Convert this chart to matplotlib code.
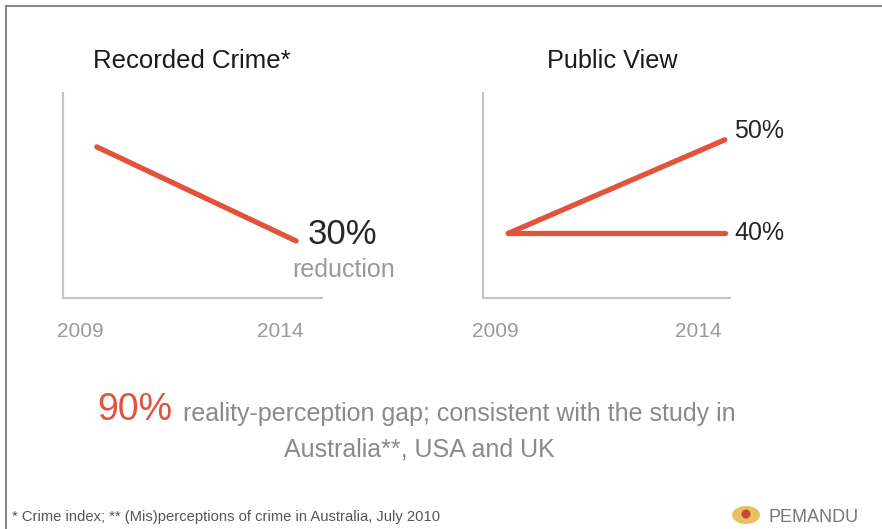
import matplotlib
matplotlib.use('Agg')
import matplotlib.pyplot as plt
from matplotlib.transforms import ScaledTranslation
from matplotlib.patches import Ellipse

# data (schematic index values)
years = [2009, 2014]
recorded_crime = [100, 70]
public_up = [0, 1.0]
public_same = [0, 0.0]
year_labels = ['2009', '2014']
left_title = 'Recorded Crime*'
right_title = 'Public View'

RED = '#e2533c'
GRAY = '#9a9a9a'
DARK = '#262626'

plt.rcParams['font.family'] = ['Liberation Sans']

fig = plt.figure(figsize=(8.82, 5.29), dpi=100)
W, H = 882, 529


def px_axes(x0, x1, y0, y1):
    return fig.add_axes([x0 / W, 1 - y1 / H, (x1 - x0) / W, (y1 - y0) / H])


def style(ax, offsets):
    for s in ('top', 'right'):
        ax.spines[s].set_visible(False)
    for s in ('left', 'bottom'):
        ax.spines[s].set_color('#c4c4c4')
        ax.spines[s].set_linewidth(1.5)
    ax.set_yticks([])
    ax.set_xticks(years)
    ax.set_xticklabels(year_labels, fontsize=15, color=GRAY)
    ax.tick_params(axis='x', length=0, pad=17)
    for lab, dx in zip(ax.get_xticklabels(), offsets):
        lab.set_transform(lab.get_transform() + ScaledTranslation(dx / 100, 0, fig.dpi_scale_trans))


# left panel
ax1 = px_axes(63, 322, 93, 298)
ax1.plot(years, recorded_crime, color=RED, lw=3.8, solid_capstyle='round')
ax1.set_xlim(2008.15, 2014.65)
ax1.set_ylim(51.8, 117.2)
style(ax1, [-17, -16])
ax1.annotate('30%', (years[1], recorded_crime[1]), xytext=(8, 5), textcoords='offset points',
             fontsize=25, color=DARK, ha='left', va='center', annotation_clip=False)
ax1.annotate('reduction', (years[1], recorded_crime[1]), xytext=(-3, -21), textcoords='offset points',
             fontsize=18, color=GRAY, ha='left', va='center', annotation_clip=False)

# right panel
ax2 = px_axes(483, 730, 93, 298)
ax2.plot(years, public_up, color=RED, lw=3.8, solid_capstyle='round')
ax2.plot(years, public_same, color=RED, lw=3.8, solid_capstyle='round')
ax2.set_xlim(2008.42, 2014.12)
ax2.set_ylim(-0.69, 1.50)
style(ax2, [-13, -27])
ax2.annotate('50%', (years[1], public_up[1]), xytext=(7, 6), textcoords='offset points',
             fontsize=18, color=DARK, ha='left', va='center', annotation_clip=False)
ax2.annotate('40%', (years[1], public_same[1]), xytext=(7, 0), textcoords='offset points',
             fontsize=18, color=DARK, ha='left', va='center', annotation_clip=False)

# titles
fig.text(192 / W, 1 - 61 / H, left_title, fontsize=18.5, color='#1a1a1a', ha='center', va='center')
fig.text(612 / W, 1 - 61 / H, right_title, fontsize=18.2, color='#1a1a1a', ha='center', va='center')

# bottom statement
fig.text(97 / W, 1 - 410 / H, '90%', fontsize=27, color=RED, ha='left', va='center')
fig.text(183 / W, 1 - 414 / H, 'reality-perception gap; consistent with the study in',
         fontsize=18, color='#8a8a8a', ha='left', va='center')
fig.text(419 / W, 1 - 450 / H, 'Australia**, USA and UK',
         fontsize=18, color='#8a8a8a', ha='center', va='center')

# footnote and logo
fig.text(12 / W, 1 - 517 / H, '* Crime index; ** (Mis)perceptions of crime in Australia, July 2010',
         fontsize=10.6, color='#555555', ha='left', va='center')
fig.patches.append(Ellipse((746 / W, 1 - 515 / H), 28 / W, 18 / H, transform=fig.transFigure,
                           facecolor='#e8c060', edgecolor='none'))
fig.patches.append(Ellipse((746 / W, 1 - 514 / H), 9 / W, 9 / H, transform=fig.transFigure,
                           facecolor='#c8453a', edgecolor='none'))
fig.text(768 / W, 1 - 517 / H, 'PEMANDU', fontsize=13, color='#777777', ha='left', va='center')

# slide frame lines
fig.add_artist(plt.Line2D([6 / W, 1], [1 - 6 / H, 1 - 6 / H], transform=fig.transFigure, color='#888888', lw=1.5))
fig.add_artist(plt.Line2D([6 / W, 6 / W], [0, 1 - 6 / H], transform=fig.transFigure, color='#888888', lw=1.5))

fig.savefig('out.png', dpi=100, facecolor='white')
